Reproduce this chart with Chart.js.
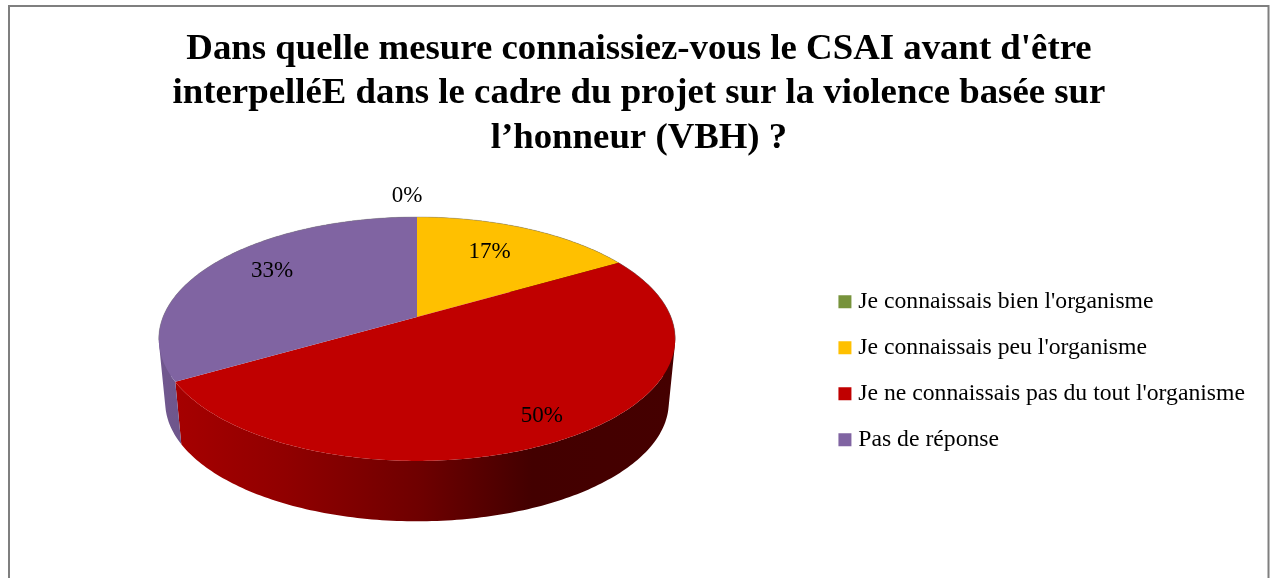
<!DOCTYPE html>
<html>
<head>
<meta charset="utf-8">
<title>CSAI</title>
<style>
html, body { margin: 0; padding: 0; background: #fff; overflow: hidden; }
#wrap { width: 1270px; height: 578px; }
</style>
</head>
<body>
<div id="wrap"><canvas id="chart" width="1270" height="578"></canvas></div>
<script src="https://cdn.jsdelivr.net/npm/chart.js"></script>
<script>
const categories = [
  "Je connaissais bien l'organisme",
  "Je connaissais peu l'organisme",
  "Je ne connaissais pas du tout l'organisme",
  "Pas de réponse"
];
const values = [0, 1, 3, 2];
const percentLabels = ["0%", "17%", "50%", "33%"];
const colors = ["#77933C", "#FFC000", "#C00000", "#8064A2"];
const titleLines = [
  "Dans quelle mesure connaissiez-vous le CSAI avant d'être",
  "interpelléE dans le cadre du projet sur la violence basée sur",
  "l’honneur (VBH) ?"
];

// perspective of the tilted pie, in pixels
const rimX = 254, tiltA = 118, tiltC = -0.18;
const depth = 64, bottomScale = 0.975;
const apex = { x: 417, y: 317 };
// where each percent label sits: fraction of radius, then nudge
const labelSpots = [[1, -10, -21], [0.6, 3, -9], [0.87, -3, -4], [0.7, 0, -7]];

function project(angle, k) {
  // chart.js angles start at -PI/2 (top of the pie)
  const u = Math.cos(angle) * k, v = Math.sin(angle) * k;
  const w = 1 + tiltC * v;
  return { x: apex.x + rimX * u / w, y: apex.y + tiltA * v / w };
}

function lower(p) {
  return {
    x: apex.x + (p.x - apex.x) * bottomScale,
    y: apex.y + (p.y - apex.y) * bottomScale + depth
  };
}

function shade(hex, f) {
  const n = parseInt(hex.slice(1), 16);
  return "rgb(" + Math.round((n >> 16) * f) + "," + Math.round(((n >> 8) & 255) * f) + "," + Math.round((n & 255) * f) + ")";
}

const pie3d = {
  id: "pie3d",
  beforeDraw(chart) {
    const c = chart.ctx;
    c.save();
    c.strokeStyle = "#7f7f7f";
    c.lineWidth = 2;
    c.strokeRect(9, 6, 1259.5, 600);
    c.restore();
  },
  beforeDatasetsDraw(chart) {
    const c = chart.ctx;
    const arcs = chart.getDatasetMeta(0).data;
    c.save();
    // side wall first, the top covers its back part
    arcs.forEach((arc, i) => {
      const span = arc.endAngle - arc.startAngle;
      if (span <= 0) return;
      const steps = Math.ceil(span * 60);
      const g = c.createLinearGradient(158, 0, 677, 0);
      g.addColorStop(0, shade(colors[i], 0.88));
      g.addColorStop(0.25, shade(colors[i], 0.75));
      g.addColorStop(0.5, shade(colors[i], 0.58));
      g.addColorStop(0.72, shade(colors[i], 0.35));
      g.addColorStop(1, shade(colors[i], 0.36));
      c.fillStyle = g;
      // one path for all the quads, so no seams between them
      c.beginPath();
      for (let s = 0; s < steps; s++) {
        const a = project(arc.startAngle + span * s / steps, 1);
        const b = project(arc.startAngle + span * (s + 1) / steps, 1);
        const a2 = lower(a), b2 = lower(b);
        let quad = [a, b, b2, a2];
        // same winding everywhere or the overlap at the fold cancels out
        let area = 0;
        quad.forEach((p, n) => {
          const q = quad[(n + 1) % 4];
          area += p.x * q.y - q.x * p.y;
        });
        if (area < 0) quad = quad.reverse();
        quad.forEach((p, n) => n ? c.lineTo(p.x, p.y) : c.moveTo(p.x, p.y));
        c.closePath();
      }
      c.fill();
    });
    // top face
    arcs.forEach((arc, i) => {
      const span = arc.endAngle - arc.startAngle;
      if (span <= 0) return;
      const steps = Math.ceil(span * 60);
      c.fillStyle = colors[i];
      c.beginPath();
      c.moveTo(apex.x, apex.y);
      for (let s = 0; s <= steps; s++) {
        const p = project(arc.startAngle + span * s / steps, 1);
        c.lineTo(p.x, p.y);
      }
      c.closePath();
      c.fill();
      // faint grey rim on the back part only
      c.strokeStyle = "rgba(128,128,128,0.4)";
      c.lineWidth = 1;
      c.beginPath();
      for (let s = 0; s <= steps; s++) {
        const ang = arc.startAngle + span * s / steps;
        if (Math.sin(ang) > 0.2) continue;
        const p = project(ang, 1);
        c.lineTo(p.x, p.y);
      }
      c.stroke();
    });
    // percent labels
    c.fillStyle = "#000";
    c.font = "23px 'Liberation Serif'";
    c.textAlign = "center";
    c.textBaseline = "middle";
    arcs.forEach((arc, i) => {
      const mid = (arc.startAngle + arc.endAngle) / 2;
      const spot = labelSpots[i];
      const p = project(mid, spot[0]);
      c.fillText(percentLabels[i], p.x + spot[1], p.y + spot[2]);
    });
    c.restore();
    return false;
  }
};

new Chart(document.getElementById("chart"), {
  type: "pie",
  data: {
    labels: categories,
    datasets: [{ data: values, backgroundColor: colors, borderWidth: 0 }]
  },
  plugins: [pie3d],
  options: {
    responsive: false,
    animation: false,
    layout: { padding: { left: 23, right: 15, top: 27, bottom: 17 } },
    plugins: {
      tooltip: { enabled: false },
      title: {
        display: true,
        text: titleLines,
        color: "#000",
        font: { family: "'Liberation Serif'", size: 36.8, weight: "bold", lineHeight: 1.21 },
        padding: { top: 0, bottom: 20 }
      },
      legend: {
        position: "right",
        fullSize: false,
        labels: {
          usePointStyle: true,
          pointStyle: "rect",
          boxWidth: 3,
          boxHeight: 13,
          padding: 22.3,
          color: "#000",
          font: { family: "'Liberation Serif'", size: 23.7 }
        }
      }
    }
  }
});
</script>
</body>
</html>
